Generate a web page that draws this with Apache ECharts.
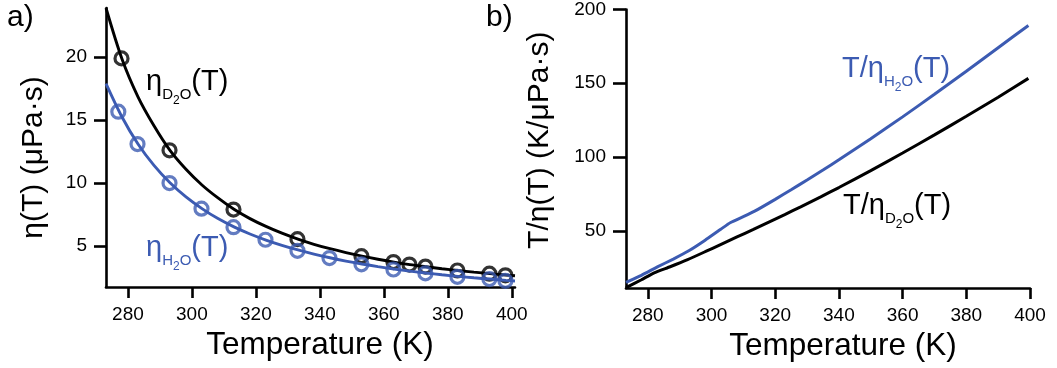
<!DOCTYPE html>
<html>
<head>
<meta charset="utf-8">
<script src="https://cdn.jsdelivr.net/npm/echarts@6/dist/echarts.min.js"></script>
<style>
  html, body { margin: 0; padding: 0; background: #fff; }
  #chart { width: 1057px; height: 368px; }
</style>
</head>
<body>
<div id="chart"></div>
<script>
// ---- tick labels ----
const tempTicks = [280, 300, 320, 340, 360, 380, 400];
const etaTicks = [5, 10, 15, 20];
const ratioTicks = [50, 100, 150, 200];

// ---- panel a: measured viscosities (markers) ----
const tempH2O = [277, 283, 293, 303, 313, 323, 333, 343, 353, 363, 373, 383, 393, 398];
const etaH2O  = [15.67, 13.1, 10.0, 7.97, 6.5, 5.5, 4.62, 4.05, 3.55, 3.14, 2.83, 2.56, 2.38, 2.24];

const tempD2O = [278, 293, 313, 333, 353, 363, 368, 373, 383, 393, 398];
const etaD2O  = [19.9, 12.6, 7.9, 5.55, 4.2, 3.73, 3.53, 3.37, 3.06, 2.81, 2.68];

// ---- panel a: fitted curves ----
const fitTemp   = [273.15, 278.15, 283.15, 288.15, 293.15, 298.15, 303.15, 308.15, 313.15, 318.15, 323.15, 328.15, 333.15,
                   338.15, 343.15, 348.15, 353.15, 358.15, 363.15, 368.15, 373.15, 378.15, 383.15, 388.15, 393.15, 398.15, 401];
const fitEtaH2O = [17.9, 15.25, 13.1, 11.4, 10.02, 8.9, 7.97, 7.18, 6.52, 5.96, 5.48, 5.06, 4.69,
                   4.36, 4.07, 3.81, 3.58, 3.37, 3.18, 3.01, 2.86, 2.72, 2.59, 2.48, 2.38, 2.28, 2.23];
const fitEtaD2O = [23.9, 19.85, 16.85, 14.55, 12.6, 11.1, 9.85, 8.82, 7.92, 7.18, 6.56, 6.02, 5.55,
                   5.14, 4.79, 4.48, 4.2, 3.95, 3.73, 3.53, 3.36, 3.2, 3.06, 2.93, 2.81, 2.7, 2.64];

// ---- panel b: T / eta ----
const ratioTempH2O = [273.15, 278, 283, 288, 293, 298, 303, 306, 310, 313.4, 320, 325, 330, 335, 340, 350, 360, 370, 380, 390, 399.5];
const ratioH2O     = [15.0, 19.8, 25.5, 30.8, 36.6, 43.6, 51.2, 55.6, 59.6, 63.1, 71.3, 77.8, 84.4, 91.2, 98.1, 112.4, 127.2, 142.5, 158.1, 174.1, 189.2];
const ratioTempD2O = [273.15, 278, 282, 287, 292.5, 298, 303, 308, 313, 318, 323, 328, 334.3, 340, 350, 360, 370, 380, 390, 399.5];
const ratioD2O     = [11.4, 16.8, 21.5, 25.6, 30.4, 35.8, 40.8, 45.8, 50.8, 55.9, 61.0, 66.2, 73.0, 79.3, 90.8, 102.7, 115.0, 127.6, 140.5, 153.3];

const zip = (xs, ys) => xs.map((x, i) => [x, ys[i]]);

const FONT = '"Liberation Sans", Arial, Helvetica, sans-serif';
const BLUE = '#3c5bb2';
const BLACK = '#000';

function axisCommon(ticks, labelMargin, tickLen) {
  return {
    type: 'value',
    axisLine: { show: true, onZero: false, lineStyle: { color: BLACK, width: 2.6 } },
    axisTick: { show: true, inside: false, length: tickLen, customValues: ticks, lineStyle: { color: BLACK, width: 2.6 } },
    axisLabel: { show: true, customValues: ticks, margin: labelMargin, color: BLACK, fontSize: 19, fontFamily: FONT },
    splitLine: { show: false }
  };
}

// rich-text styles for labels with nested subscripts (e.g. η with D₂O below the baseline)
function richStyles(color) {
  return {
    m: { fontSize: 29, lineHeight: 29, padding: [0, 0, 11, 0], verticalAlign: 'bottom', color, fontFamily: FONT },
    s: { fontSize: 15, lineHeight: 15, padding: [0, 0, 5, 0], verticalAlign: 'bottom', color, fontFamily: FONT },
    t: { fontSize: 12, lineHeight: 12, padding: [0, 0, 0, 0], verticalAlign: 'bottom', color, fontFamily: FONT }
  };
}
function subLabel(text, x, y, color) {
  return {
    type: 'text', left: x, top: y, silent: true,
    style: { text, rich: richStyles(color), fill: color }
  };
}

const chart = echarts.init(document.getElementById('chart'), null, { renderer: 'canvas' });

chart.setOption({
  animation: false,
  backgroundColor: '#fff',
  grid: [
    { left: 106, top: 8, width: 409, height: 279 },
    { left: 626, top: 9, width: 404, height: 279 }
  ],
  xAxis: [
    Object.assign(axisCommon(tempTicks, 18, 11), {
      gridIndex: 0, min: 273.15, max: 401,
      name: 'Temperature (K)', nameLocation: 'middle', nameGap: 41,
      nameTextStyle: { color: BLACK, fontSize: 31.5, fontFamily: FONT, padding: [0, 0, 0, 19] }
    }),
    Object.assign(axisCommon(tempTicks, 18, 11), {
      gridIndex: 1, min: 273.15, max: 400,
      name: 'Temperature (K)', nameLocation: 'middle', nameGap: 41,
      nameTextStyle: { color: BLACK, fontSize: 31.5, fontFamily: FONT, padding: [0, 0, 0, 30] }
    })
  ],
  yAxis: [
    Object.assign(axisCommon(etaTicks, 19, 12), {
      gridIndex: 0, min: 1.75, max: 23.9,
      name: 'η(T) (μPa·s)', nameLocation: 'middle', nameGap: 57, nameRotate: 90,
      nameTextStyle: { color: BLACK, fontSize: 30, fontFamily: FONT, padding: [0, 20, 0, 0] }
    }),
    Object.assign(axisCommon(ratioTicks, 20, 13), {
      gridIndex: 1, min: 11.2, max: 200,
      name: 'T/η(T) (K/μPa·s)', nameLocation: 'middle', nameGap: 71, nameRotate: 90,
      nameTextStyle: { color: BLACK, fontSize: 30, fontFamily: FONT, padding: [0, 0, 0, 17] }
    })
  ],
  series: [
    {
      type: 'line', xAxisIndex: 0, yAxisIndex: 0, data: zip(fitTemp, fitEtaD2O),
      smooth: 0.3, showSymbol: false, lineStyle: { color: BLACK, width: 2.9 }, z: 2
    },
    {
      type: 'scatter', xAxisIndex: 0, yAxisIndex: 0, data: zip(tempD2O, etaD2O),
      symbol: 'circle', symbolSize: 13,
      itemStyle: { color: 'rgba(0,0,0,0)', borderColor: BLACK, borderWidth: 3.2 }, z: 3
    },
    {
      type: 'line', xAxisIndex: 0, yAxisIndex: 0, data: zip(fitTemp, fitEtaH2O),
      smooth: 0.3, showSymbol: false, lineStyle: { color: BLUE, width: 2.9 }, z: 4
    },
    {
      type: 'scatter', xAxisIndex: 0, yAxisIndex: 0, data: zip(tempH2O, etaH2O),
      symbol: 'circle', symbolSize: 13,
      itemStyle: { color: 'rgba(0,0,0,0)', borderColor: BLUE, borderWidth: 3.2 }, z: 5
    },
    {
      type: 'line', xAxisIndex: 1, yAxisIndex: 1, data: zip(ratioTempD2O, ratioD2O),
      smooth: 0.15, showSymbol: false, lineStyle: { color: BLACK, width: 3 }, z: 2
    },
    {
      type: 'line', xAxisIndex: 1, yAxisIndex: 1, data: zip(ratioTempH2O, ratioH2O),
      smooth: 0.15, showSymbol: false, lineStyle: { color: BLUE, width: 3 }, z: 3
    }
  ],
  graphic: [
    { type: 'text', left: 7, top: 3, silent: true, style: { text: 'a)', fontSize: 30, fontFamily: FONT, fill: BLACK } },
    { type: 'text', left: 486, top: 3, silent: true, style: { text: 'b)', fontSize: 30, fontFamily: FONT, fill: BLACK } },
    subLabel('{m|η}{s|D}{t|2}{s|O}{m|(T)}', 146, 67, BLACK),
    subLabel('{m|η}{s|H}{t|2}{s|O}{m|(T)}', 146, 233, BLUE),
    subLabel('{m|T/η}{s|H}{t|2}{s|O}{m|(T)}', 842, 54, BLUE),
    subLabel('{m|T/η}{s|D}{t|2}{s|O}{m|(T)}', 843, 191, BLACK)
  ]
});
</script>
</body>
</html>
